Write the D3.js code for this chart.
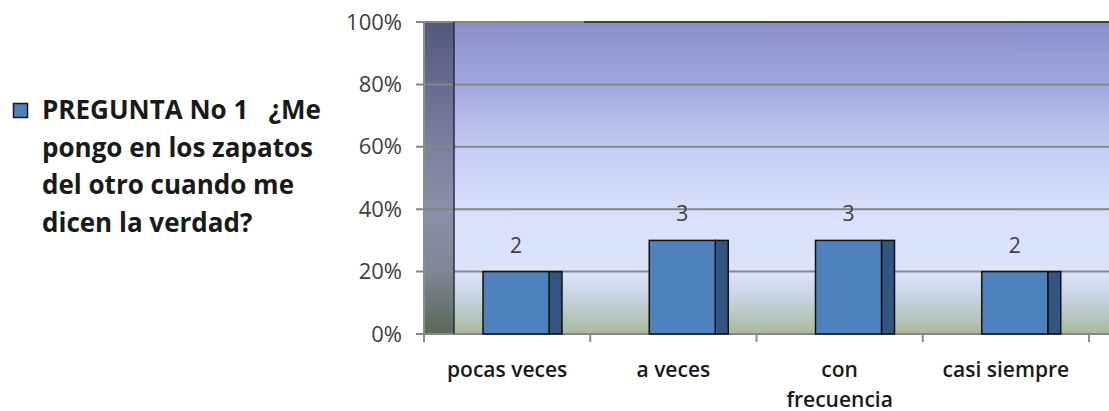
<!DOCTYPE html>
<html>
<head>
<meta charset="utf-8">
<script src="https://cdn.jsdelivr.net/npm/d3@7"></script>
<style>
  body { margin: 0; background: #fff; }
  svg { display: block; }
  .tick-label { font-family: "Open Sans", sans-serif; font-size: 22px; fill: #404040; }
  .cat-label { font-family: "Open Sans", sans-serif; font-size: 21px; font-weight: 600; fill: #1a1a1a; }
  .legend-text { font-family: "Open Sans", sans-serif; font-size: 26px; font-weight: 700; fill: #1a1a1a; }
  .data-label { font-family: "Open Sans", sans-serif; font-size: 21px; fill: #404040; }
</style>
</head>
<body>
<div id="chart"></div>
<script>
// data
const categories = ['pocas veces', 'a veces', 'con frecuencia', 'casi siempre'];
const counts = [2, 3, 3, 2];
const total = 10;
const yTicks = [0, 0.2, 0.4, 0.6, 0.8, 1];
const legendLines = ['PREGUNTA No 1 \u00a0\u00a0\u00bfMe', 'pongo en los zapatos', 'del otro cuando me', 'dicen la verdad?'];

const width = 1109, height = 411;
const margin = { top: 22, right: 0, bottom: 77, left: 424 };
const innerWidth = width - margin.left - margin.right;
const innerHeight = height - margin.top - margin.bottom;
const depth = 29;      // 3d wall depth
const sideW = 13;      // bar side face

const svg = d3.select('#chart').append('svg')
  .attr('width', width)
  .attr('height', height);

const defs = svg.append('defs');

const bg = defs.append('linearGradient')
  .attr('id', 'bg').attr('x1', 0).attr('y1', 0).attr('x2', 0).attr('y2', 1);
[[0, '#8a8fcb'], [0.2, '#a1a7dd'], [0.42, '#c6cef3'], [0.6, '#d8e0fb'], [0.8, '#dce4fb'], [0.88, '#c8d4e4'], [1, '#a7b99b']]
  .forEach(s => bg.append('stop').attr('offset', s[0]).attr('stop-color', s[1]));

const wall = defs.append('linearGradient')
  .attr('id', 'wall').attr('x1', 0).attr('y1', 0).attr('x2', 0).attr('y2', 1);
[[0, '#52577e'], [0.35, '#777c9c'], [0.6, '#8a90a8'], [0.8, '#7f8696'], [1, '#596a56']]
  .forEach(s => wall.append('stop').attr('offset', s[0]).attr('stop-color', s[1]));

const xScale = d3.scaleBand()
  .domain(categories)
  .range([0, innerWidth - 20]);

const yScale = d3.scaleLinear()
  .domain([0, 1])
  .range([innerHeight, 0]);

const g = svg.append('g')
  .attr('transform', `translate(${margin.left},${margin.top})`);

// back wall + side wall
g.append('rect')
  .attr('x', 0).attr('y', 0)
  .attr('width', innerWidth).attr('height', innerHeight)
  .attr('fill', 'url(#bg)');

g.append('rect')
  .attr('x', 1).attr('y', 0)
  .attr('width', depth).attr('height', innerHeight)
  .attr('fill', 'url(#wall)');

// gridlines
g.selectAll('.grid')
  .data(yTicks)
  .enter().append('line')
  .attr('class', 'grid')
  .attr('x1', -8).attr('x2', innerWidth)
  .attr('y1', d => yScale(d)).attr('y2', d => yScale(d))
  .attr('stroke', '#868686')
  .attr('stroke-width', 2);

g.append('line')
  .attr('x1', 160).attr('x2', innerWidth)
  .attr('y1', 0).attr('y2', 0)
  .attr('stroke', '#404040').attr('stroke-width', 2);

g.append('line')
  .attr('x1', depth + 1).attr('x2', depth + 1)
  .attr('y1', 0).attr('y2', innerHeight)
  .attr('stroke', '#2a2d40').attr('stroke-width', 1.5);

// y axis
const yAxis = d3.axisLeft(yScale)
  .tickValues(yTicks)
  .tickFormat(d3.format('.0%'))
  .tickSize(0)
  .tickPadding(22);

const yAxisG = g.append('g').call(yAxis);
yAxisG.select('.domain').remove();
yAxisG.selectAll('text').attr('class', 'tick-label').attr('fill', null);

g.append('line')
  .attr('x1', 0).attr('x2', 0)
  .attr('y1', 0).attr('y2', innerHeight + 7)
  .attr('stroke', '#8c8c8c').attr('stroke-width', 2);

// x axis ticks
const bandEdges = categories.map(c => xScale(c)).concat([xScale.range()[1]]);
g.selectAll('.xtick')
  .data(bandEdges)
  .enter().append('line')
  .attr('x1', d => d).attr('x2', d => d)
  .attr('y1', innerHeight).attr('y2', innerHeight + 8)
  .attr('stroke', '#8c8c8c').attr('stroke-width', 2);

// bars
const barW = 66;
const bars = g.selectAll('.bar')
  .data(categories.map((c, i) => ({ cat: c, v: counts[i] / total, n: counts[i] })))
  .enter().append('g')
  .attr('class', 'bar')
  .attr('transform', d => `translate(${xScale(d.cat) + 59},0)`);

bars.append('rect')
  .attr('x', barW).attr('y', d => yScale(d.v))
  .attr('width', sideW).attr('height', d => innerHeight - yScale(d.v))
  .attr('fill', '#335681').attr('stroke', '#111').attr('stroke-width', 1.5);

bars.append('rect')
  .attr('x', 0).attr('y', d => yScale(d.v))
  .attr('width', barW).attr('height', d => innerHeight - yScale(d.v))
  .attr('fill', '#4f81bd').attr('stroke', '#111').attr('stroke-width', 1.5);

bars.append('text')
  .attr('class', 'data-label')
  .attr('x', barW / 2)
  .attr('y', d => yScale(d.v) - 19)
  .attr('text-anchor', 'middle')
  .text(d => d.n);

// category labels
const catG = g.selectAll('.cat')
  .data(categories)
  .enter().append('text')
  .attr('class', 'cat-label')
  .attr('text-anchor', 'middle')
  .attr('y', innerHeight + 43);

catG.each(function (d) {
  const lines = d === 'con frecuencia' ? ['con', 'frecuencia'] : [d];
  const t = d3.select(this);
  lines.forEach((l, i) => {
    t.append('tspan')
      .attr('x', xScale(d) + xScale.bandwidth() / 2)
      .attr('dy', i === 0 ? 0 : 30)
      .text(l);
  });
});

// legend
const legend = svg.append('g').attr('transform', 'translate(13,103)');
legend.append('rect')
  .attr('x', 0.5).attr('y', 0.5)
  .attr('width', 14).attr('height', 14)
  .attr('fill', '#4f81bd').attr('stroke', '#1a1a1a').attr('stroke-width', 1.5);

legend.append('text')
  .attr('class', 'legend-text')
  .selectAll('tspan')
  .data(legendLines)
  .enter().append('tspan')
  .attr('x', 29)
  .attr('y', (d, i) => 16 + i * 37.5)
  .text(d => d);
</script>
</body>
</html>
